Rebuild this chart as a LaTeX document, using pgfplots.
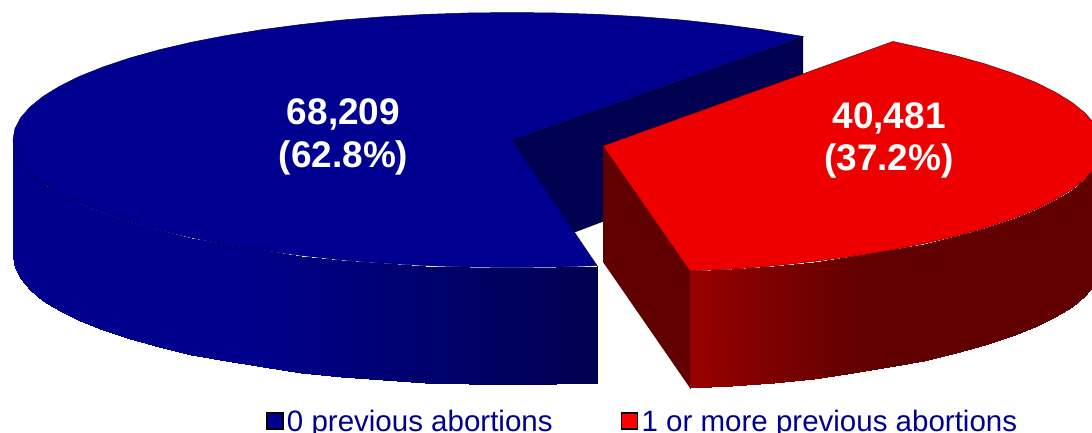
\documentclass[border=0pt]{standalone}
\usepackage{fontspec}
\setmainfont{Liberation Sans}
\usepackage{pgfplots}
\pgfplotsset{compat=1.18}
\definecolor{topblue}{HTML}{000090}
\definecolor{darkblue}{HTML}{000050}
\definecolor{topred}{HTML}{EE0000}
\definecolor{darkred}{HTML}{600000}
\definecolor{legblue}{HTML}{000090}
\definecolor{legred}{HTML}{FF0000}

\begin{document}
\begin{tikzpicture}
\path[use as bounding box, clip] (0,0) rectangle (1092pt,433pt);
\begin{axis}[
    at={(0,0)}, anchor=south west,
    scale only axis,
    width=1092pt, height=433pt,
    xmin=0, xmax=1092, ymin=0, ymax=433,
    y dir=reverse,
    axis lines=none,
    point meta min=0, point meta max=1,
    legend columns=2,
    legend style={
        at={(266/1092,0)}, anchor=south west,
        draw=none, fill=none, inner sep=0pt, outer sep=0pt,
        font=\fontsize{29.5}{29.5}\selectfont, text=legblue,
        yshift=-2pt,
        /tikz/every even column/.append style={column sep=66pt},
    },
    legend image code/.code={
        \draw[#1, draw=black, line width=1.6pt] (0pt,-7.5pt) rectangle (16pt,8.5pt);
        \path (18pt,0pt);
    },
]
% 0 previous abortions: cut face, then outer wall, then top
\addplot[fill=darkblue, draw=none, forget plot] coordinates {
    (512,140) (803,36.5) (803,146) (573,233)
} --cycle;
\addplot[surf, shader=interp, forget plot,
    colormap={wallblue}{rgb255=(0,0,80) rgb255=(0,0,140)},
    point meta=explicit] table[x=x, y=y, meta=m] {
x y m
13 140 1
14.9 151.1 1
20.6 162.2 1
30 173 1
43.1 183.6 1
59.9 193.9 1
79.9 203.8 1
103.2 213.1 1
129.8 222 1
159.2 230.2 1
191.2 237.7 1
225.8 244.4 1
262.5 250.4 .96
301.1 255.5 .85
341.3 259.9 .74
382.9 263.2 .62
425.3 265.6 .49
468.5 267 .37
512 267.5 .24
555.5 267 .12
597 265.6 0

13 257 1
14.9 268.1 1
20.6 279.2 1
30 290 1
43.1 300.6 1
59.9 310.9 1
79.9 320.8 1
103.2 330.1 1
129.8 339 1
159.2 347.2 1
191.2 354.7 1
225.8 361.4 1
262.5 367.4 .96
301.1 372.5 .85
341.3 376.9 .74
382.9 380.2 .62
425.3 382.6 .49
468.5 384 .37
512 384.5 .24
555.5 384 .12
597 382.6 0
};
\addplot[fill=topblue, draw=darkblue, line width=0.5pt, forget plot] coordinates {
    (512,140) (803,36.5) (761.5,29.6) (722.9,24.5) (682.7,20.1) (641.1,16.8)
    (598.7,14.4) (555.5,13) (512,12.5) (468.5,13) (425.3,14.4) (382.9,16.8)
    (341.3,20.1) (301.1,24.5) (262.5,29.6) (225.8,35.6) (191.2,42.3) (159.2,49.8)
    (129.8,58) (103.2,66.9) (79.9,76.2) (59.9,86.1) (43.1,96.4) (30,107)
    (20.6,117.8) (14.9,128.9) (13,140) (14.9,151.1) (20.6,162.2) (30,173)
    (43.1,183.6) (59.9,193.9) (79.9,203.8) (103.2,213.1) (129.8,222) (159.2,230.2)
    (191.2,237.7) (225.8,244.4) (262.5,250.4) (301.1,255.5) (341.3,259.9) (382.9,263.2)
    (425.3,265.6) (468.5,267) (512,267.5) (555.5,267) (597,265.6)
} --cycle;
% 1 or more previous abortions
\addplot[fill=darkred, draw=none, forget plot] coordinates {
    (603,146) (690,271) (690,388) (603,262)
} --cycle;
\addplot[surf, shader=interp, forget plot,
    colormap={wallred}{rgb255=(96,0,0) rgb255=(153,0,0)},
    point meta=explicit] table[x=x, y=y, meta=m] {
x y m
690 271 1
732.1 269.2 .75
773.7 265.9 .51
813.9 261.5 .27
852.5 256.4 .05
889.2 250.4 0
923.8 243.7 0
955.8 236.2 0
985.2 228 0
1011.8 219.1 0
1035.1 209.8 0
1055.1 199.9 0
1071.9 189.6 0
1085 179 0
1094.4 168.2 0
1100.1 157.1 0
1102 146 0

690 388 1
732.1 386.2 .75
773.7 382.9 .51
813.9 378.5 .27
852.5 373.4 .05
889.2 367.4 0
923.8 360.7 0
955.8 353.2 0
985.2 345 0
1011.8 336.1 0
1035.1 326.8 0
1055.1 316.9 0
1071.9 306.6 0
1085 296 0
1094.4 285.2 0
1100.1 274.1 0
1102 263 0
};
\addplot[fill=topred, draw=darkred, line width=0.5pt, forget plot] coordinates {
    (603,146) (893,41.5) (923.8,48.3) (955.8,55.8) (985.2,64) (1011.8,72.9)
    (1035.1,82.2) (1055.1,92.1) (1071.9,102.4) (1085,113) (1094.4,123.8) (1100.1,134.9)
    (1102,146) (1100.1,157.1) (1094.4,168.2) (1085,179) (1071.9,189.6) (1055.1,199.9)
    (1035.1,209.8) (1011.8,219.1) (985.2,228) (955.8,236.2) (923.8,243.7) (889.2,250.4)
    (852.5,256.4) (813.9,261.5) (773.7,265.9) (732.1,269.2) (690,271)
} --cycle;
\addlegendimage{fill=legblue}
\addlegendentry{0 previous abortions}
\addlegendimage{fill=legred}
\addlegendentry{1 or more previous abortions}
\node[font=\fontsize{37}{37}\selectfont\bfseries, text=white] at (axis cs:343.5,114) {68,209};
\node[font=\fontsize{37}{37}\selectfont\bfseries, text=white] at (axis cs:343.5,158) {(62.8\%)};
\node[font=\fontsize{37}{37}\selectfont\bfseries, text=white] at (axis cs:889,118) {40,481};
\node[font=\fontsize{37}{37}\selectfont\bfseries, text=white] at (axis cs:889,161) {(37.2\%)};
\end{axis}
\end{tikzpicture}
\end{document}
